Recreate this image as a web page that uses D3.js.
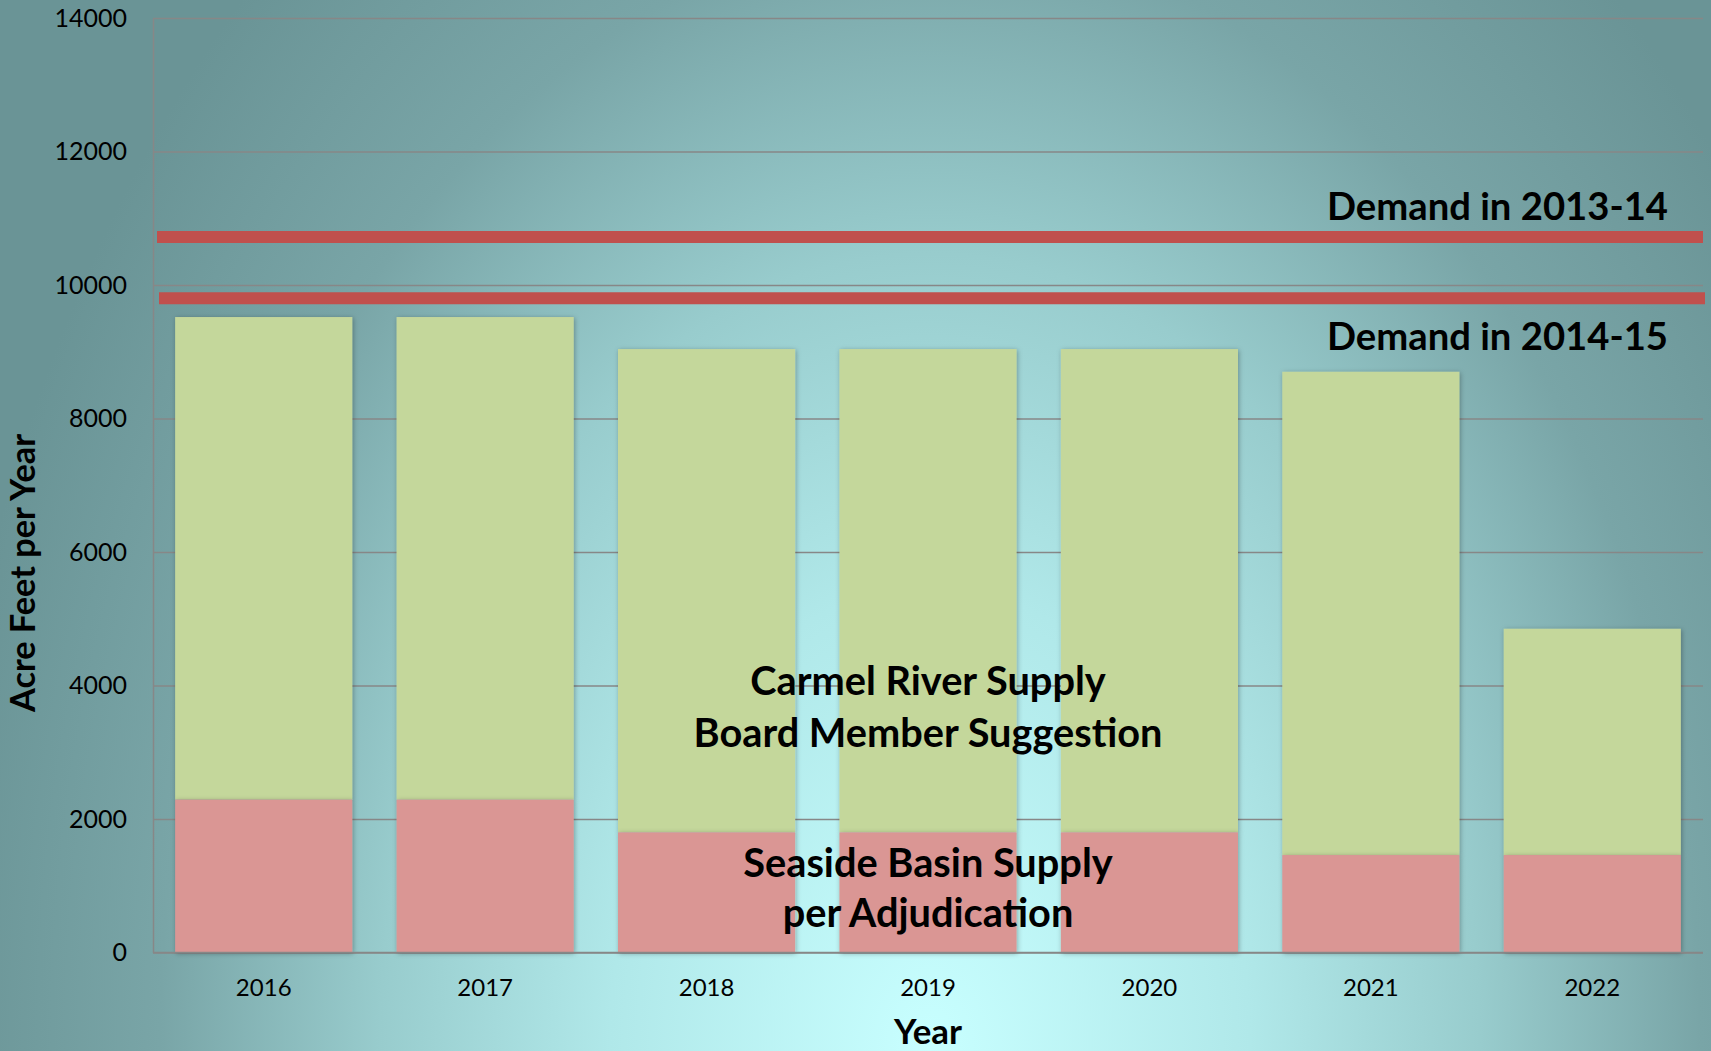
<!DOCTYPE html>
<html>
<head>
<meta charset="utf-8">
<script src="https://cdn.jsdelivr.net/npm/d3@7"></script>
<style>
  html, body { margin: 0; padding: 0; background: #6a9496; }
  svg { display: block; }
  text { font-family: Lato, "Open Sans", "Noto Sans", sans-serif; fill: #000; }
</style>
</head>
<body>
<svg id="chart" width="1711" height="1051"></svg>
<script>
// ---- data ----
const years = ["2016", "2017", "2018", "2019", "2020", "2021", "2022"];
const seasideBasin = [2290, 2290, 1800, 1800, 1800, 1460, 1460];
const carmelRiver = [7230, 7230, 7240, 7240, 7240, 7240, 3390];
const demandValues = [10720, 9800];
const demandLabels = ["Demand in 2013-14", "Demand in 2014-15"];
const yTicks = [0, 2000, 4000, 6000, 8000, 10000, 12000, 14000];
const seriesNames = ["Seaside Basin Supply", "Carmel River Supply"];

const W = 1711, H = 1051;
const margin = { top: 18, right: 8, bottom: 98.5, left: 153 };
const svg = d3.select("#chart");

// background gradient
const defs = svg.append("defs");
const grad = defs.append("radialGradient")
  .attr("id", "bg")
  .attr("gradientUnits", "userSpaceOnUse")
  .attr("cx", 930).attr("cy", 1051).attr("r", 1000)
  .attr("gradientTransform", "translate(930,1051) scale(1,1.45) translate(-930,-1051)");
[[0, "#c8ffff"], [0.32, "#b0e8e9"], [0.55, "#98cccd"], [0.77, "#79a5a7"], [1, "#6a9496"]]
  .forEach(([o, c]) => grad.append("stop").attr("offset", o).attr("stop-color", c));

const shadow = defs.append("filter").attr("id", "shadow")
  .attr("x", "-10%").attr("y", "-10%").attr("width", "120%").attr("height", "120%");
shadow.append("feDropShadow").attr("dx", 1).attr("dy", 1).attr("stdDeviation", 2.5)
  .attr("flood-color", "#000").attr("flood-opacity", 0.3);

svg.append("rect").attr("width", W).attr("height", H).attr("fill", "url(#bg)");

// scales
const x = d3.scaleBand().domain(years)
  .range([margin.left, W - margin.right])
  .paddingInner(0.2).paddingOuter(0.1);
const y = d3.scaleLinear().domain([0, 14000]).range([H - margin.bottom, margin.top]);

// gridlines
const grid = svg.append("g")
  .attr("transform", `translate(${margin.left},0)`)
  .call(d3.axisLeft(y).tickValues(yTicks).tickSize(-(W - margin.right - margin.left)).tickFormat(""));
grid.select(".domain").remove();
grid.selectAll(".tick line").attr("stroke", "#878787").attr("stroke-width", 1.5);

// y axis labels
const yAxis = svg.append("g")
  .attr("transform", `translate(${margin.left},0)`)
  .call(d3.axisLeft(y).tickValues(yTicks).tickSize(0).tickPadding(26).tickFormat(d3.format("d")));
yAxis.select(".domain").attr("stroke", "#878787").attr("stroke-width", 1.5);
yAxis.selectAll(".tick text").style("font-size", "25px").style("font-family", "Lato, sans-serif").attr("fill", "#000");

// stacked bars
const table = years.map((yr, i) => ({ year: yr, seaside: seasideBasin[i], carmel: carmelRiver[i] }));
const stack = d3.stack().keys(["seaside", "carmel"])(table);
const colors = { seaside: "#da9694", carmel: "#c4d79b" };

const layers = svg.append("g").selectAll("g").data(stack).join("g")
  .attr("fill", d => colors[d.key]);
layers.selectAll("rect").data(d => d).join("rect")
  .attr("x", d => x(d.data.year))
  .attr("width", x.bandwidth())
  .attr("y", d => y(d[1]))
  .attr("height", d => y(d[0]) - y(d[1]))
  .attr("filter", "url(#shadow)");
layers.filter(d => d.key === "seaside").raise();

// x axis
const xAxis = svg.append("g")
  .attr("transform", `translate(0,${H - margin.bottom})`)
  .call(d3.axisBottom(x).tickSize(0).tickPadding(26));
xAxis.select(".domain").attr("stroke", "#878787").attr("stroke-width", 1.5)
  .attr("d", `M${margin.left},0H${W - margin.right}`);
xAxis.selectAll(".tick text").style("font-size", "24px").style("font-family", "Lato, sans-serif").attr("fill", "#000");

// demand lines
svg.append("g").selectAll("line").data(demandValues).join("line")
  .attr("x1", (d, i) => margin.left + 4 + i * 2)
  .attr("x2", (d, i) => W - margin.right + i * 2)
  .attr("y1", d => y(d)).attr("y2", d => y(d))
  .attr("stroke", "#c0504d").attr("stroke-width", 12);

// helper: fit text to width
function fit(sel, width) {
  sel.each(function () {
    const len = this.getComputedTextLength();
    const fs = parseFloat(this.style.fontSize);
    this.style.fontSize = (fs * width / len) + "px";
  });
}

// demand labels
const dl = svg.append("g").selectAll("text").data(demandLabels).join("text")
  .attr("x", 1327)
  .attr("y", (d, i) => y(demandValues[i]) + (i === 0 ? -17 : 52))
  .style("font-size", "40px").style("font-weight", "bold")
  .text(d => d);
fit(dl, 341);

// series annotations (centered on middle bar)
const cx = x("2019") + x.bandwidth() / 2;
const carmelLines = [seriesNames[1], "Board Member Suggestion"];
const seasideLines = [seriesNames[0], "per Adjudication"];
const ann = svg.append("g").attr("text-anchor", "middle");
const t1 = ann.append("text").attr("x", cx).attr("y", 695).style("font-size", "40px").style("font-weight", "bold").text(carmelLines[0]);
const t2 = ann.append("text").attr("x", cx).attr("y", 747).style("font-size", "40px").style("font-weight", "bold").text(carmelLines[1]);
const t3 = ann.append("text").attr("x", cx).attr("y", 877).style("font-size", "40px").style("font-weight", "bold").text(seasideLines[0]);
const t4 = ann.append("text").attr("x", cx).attr("y", 927).style("font-size", "40px").style("font-weight", "bold").text(seasideLines[1]);
fit(t2, 469);
const annFs = t2.style("font-size");
[t1, t3, t4].forEach(t => t.style("font-size", annFs));

// axis titles
const xt = svg.append("text")
  .attr("x", cx).attr("y", 1044)
  .attr("text-anchor", "middle")
  .style("font-size", "32px").style("font-weight", "bold")
  .text("Year");
fit(xt, 68);
const yt = svg.append("text")
  .attr("transform", "translate(35,573) rotate(-90)")
  .attr("text-anchor", "middle")
  .style("font-size", "31px").style("font-weight", "bold")
  .text("Acre Feet per Year");
fit(yt, 278);
</script>
</body>
</html>
